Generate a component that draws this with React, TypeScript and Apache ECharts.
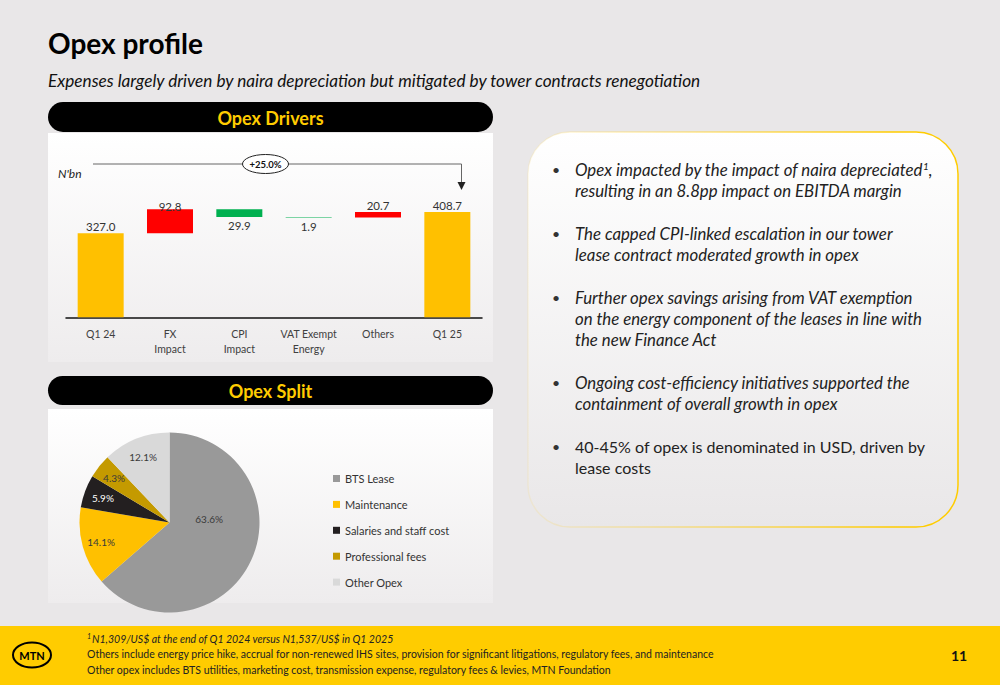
import React, { useEffect, useRef } from 'react';
import * as echarts from 'echarts';

// ---------- Data ----------
const driverCategories = ['Q1 24', 'FX\nImpact', 'CPI\nImpact', 'VAT Exempt\nEnergy', 'Others', 'Q1 25'];
const driverKinds = ['total', 'increase', 'decrease', 'decrease', 'increase', 'total'];
const driverValues = [327.0, 92.8, 29.9, 1.9, 20.7, 408.7];
const growthLabel = '+25.0%';
const driverAxisMax = 650;

const splitNames = ['BTS Lease', 'Maintenance', 'Salaries and staff cost', 'Professional fees', 'Other Opex'];
const splitValues = [63.6, 14.1, 5.9, 4.3, 12.1];
const splitColors = ['#999999', '#FFC000', '#231F20', '#C49A00', '#D9D9D9'];
const splitLabelColors = ['#3a3a3a', '#3a3a3a', '#ffffff', '#3a3a3a', '#3a3a3a'];

const titleText = 'Opex profile';
const subtitleText = 'Expenses largely driven by naira depreciation but mitigated by tower contracts renegotiation';

// Each bullet: italic flag + lines ({s|1} = superscript)
const bullets = [
  { italic: true, lines: ['Opex impacted by the impact of naira depreciated{s|1},', 'resulting in an 8.8pp impact on EBITDA margin'] },
  { italic: true, lines: ['The capped CPI-linked escalation in our tower', 'lease contract moderated growth in opex'] },
  { italic: true, lines: ['Further opex savings arising from VAT exemption', 'on the energy component of the leases in line with', 'the new Finance Act'] },
  { italic: true, lines: ['Ongoing cost-efficiency initiatives supported the', 'containment of overall growth in opex'] },
  { italic: false, lines: ['40-45% of opex is denominated in USD, driven by', 'lease costs'] },
];

const footnotes = [
  { text: '{s|1}{i|N1,309/US$ at the end of Q1 2024 versus N1,537/US$ in Q1 2025}' },
  { text: '{n|Others include energy price hike, accrual for non-renewed IHS sites, provision for significant litigations, regulatory fees, and maintenance}' },
  { text: '{n|Other opex includes BTS utilities, marketing cost, transmission expense, regulatory fees & levies, MTN Foundation}' },
];
const pageNumber = '11';

const FONT = 'Lato, "Noto Sans", sans-serif';
const COLORS = { total: '#FFC000', increase: '#FF0000', decrease: '#00B050' } as Record<string, string>;

export default function App() {
  const ref = useRef<HTMLDivElement>(null);

  useEffect(() => {
    if (!ref.current) return;
    const chart = echarts.init(ref.current, undefined, { renderer: 'svg' });

    // waterfall bases
    let running = 0;
    const bases: number[] = [];
    driverValues.forEach((v, i) => {
      const k = driverKinds[i];
      if (k === 'total') { bases.push(0); running = v; }
      else if (k === 'increase') { bases.push(running); running += v; }
      else { running -= v; bases.push(running); }
    });

    const graphics: any[] = [];
    // title
    graphics.push({ type: 'text', x: 48, y: 43, style: { text: titleText, font: `bold 28px ${FONT}`, fill: '#000', align: 'left', verticalAlign: 'middle' } });
    graphics.push({ type: 'text', x: 48, y: 80, style: { text: subtitleText, font: `italic 17.2px ${FONT}`, fill: '#111', align: 'left', verticalAlign: 'middle' } });

    const panelFill = new echarts.graphic.LinearGradient(0, 0, 0, 1, [
      { offset: 0, color: '#ffffff' }, { offset: 1, color: '#EEECED' },
    ]);
    // panels
    graphics.push({ type: 'rect', shape: { x: 48, y: 133, width: 445, height: 229 }, style: { fill: panelFill } });
    graphics.push({ type: 'rect', shape: { x: 48, y: 409, width: 445, height: 194 }, style: { fill: panelFill } });
    // headers
    graphics.push({ type: 'rect', shape: { x: 48, y: 102, width: 445, height: 30, r: 15 }, style: { fill: '#000' } });
    graphics.push({ type: 'text', x: 270.5, y: 117.5, style: { text: 'Opex Drivers', font: `bold 18px ${FONT}`, fill: '#FFCC00', align: 'center', verticalAlign: 'middle' } });
    graphics.push({ type: 'rect', shape: { x: 48, y: 376, width: 445, height: 29, r: 14.5 }, style: { fill: '#000' } });
    graphics.push({ type: 'text', x: 270.5, y: 391, style: { text: 'Opex Split', font: `bold 18px ${FONT}`, fill: '#FFCC00', align: 'center', verticalAlign: 'middle' } });

    // growth annotation
    graphics.push({ type: 'text', x: 58, y: 173, style: { text: "N'bn", font: `italic 12px ${FONT}`, fill: '#222', align: 'left', verticalAlign: 'middle' } });
    graphics.push({ type: 'polyline', shape: { points: [[93, 164], [461.5, 164], [461.5, 183]] }, style: { stroke: '#666', lineWidth: 1, fill: 'none' } });
    graphics.push({ type: 'polygon', shape: { points: [[457.5, 182], [465.5, 182], [461.5, 190]] }, style: { fill: '#222' } });
    graphics.push({ type: 'ellipse', shape: { cx: 265.5, cy: 164, rx: 23, ry: 9.5 }, style: { fill: '#fff', stroke: '#222', lineWidth: 1 } });
    graphics.push({ type: 'text', x: 265.5, y: 164, style: { text: growthLabel, font: `bold 9.5px ${FONT}`, fill: '#111', align: 'center', verticalAlign: 'middle' } });

    // right box
    graphics.push({
      type: 'rect', shape: { x: 528, y: 132, width: 430, height: 395, r: 42 },
      style: {
        fill: new echarts.graphic.LinearGradient(0, 0, 0, 1, [{ offset: 0, color: '#ffffff' }, { offset: 1, color: '#E9E7E8' }]),
        stroke: new echarts.graphic.LinearGradient(0, 0, 1, 0, [{ offset: 0, color: 'rgba(255,210,60,0.12)' }, { offset: 0.85, color: '#FFCC00' }, { offset: 1, color: '#FFCC00' }]),
        lineWidth: 1.5,
      },
    });
    let k = 0;
    const lineH = 21.3;
    bullets.forEach((b) => {
      graphics.push({ type: 'text', x: 552, y: 169.5 + lineH * k, style: { text: '•', font: `14px ${FONT}`, fill: '#333', align: 'left', verticalAlign: 'middle' } });
      b.lines.forEach((ln) => {
        const rich = ln.replace(/^([^{]*)\{s\|1\}(.*)$/, '{t|$1}{s|1}{t|$2}');
        const txt = rich.indexOf('{t|') === 0 ? rich : `{t|${ln}}`;
        graphics.push({
          type: 'text', x: 575, y: 169.5 + lineH * k,
          style: {
            text: txt, align: 'left', verticalAlign: 'middle',
            rich: {
              t: { font: `${b.italic ? 'italic 16.8px' : '16px'} ${FONT}`, fill: '#222' },
              s: { font: `${b.italic ? 'italic ' : ''}10px ${FONT}`, fill: '#222', verticalAlign: 'top', padding: [0, 0, 8, 0] },
            },
          },
        });
        k += 1;
      });
      k += 1;
    });

    // footer
    graphics.push({ type: 'rect', shape: { x: 0, y: 626, width: 1000, height: 59 }, style: { fill: '#FFCC00' } });
    graphics.push({ type: 'ellipse', shape: { cx: 32, cy: 655, rx: 19, ry: 12.5 }, style: { fill: 'none', stroke: '#000', lineWidth: 2 } });
    graphics.push({ type: 'text', x: 32, y: 655.5, style: { text: 'MTN', font: `bold 11px ${FONT}`, fill: '#000', align: 'center', verticalAlign: 'middle' } });
    footnotes.forEach((f, i) => {
      graphics.push({
        type: 'text', x: 87, y: 638.5 + i * 15.5,
        style: {
          text: f.text, align: 'left', verticalAlign: 'middle',
          rich: {
            s: { font: `italic 7px ${FONT}`, fill: '#222', padding: [0, 1, 5, 0] },
            i: { font: `italic 10.5px ${FONT}`, fill: '#222' },
            n: { font: `10.5px ${FONT}`, fill: '#222' },
          },
        },
      });
    });
    graphics.push({ type: 'text', x: 959, y: 655.5, style: { text: pageNumber, font: `bold 14px ${FONT}`, fill: '#111', align: 'center', verticalAlign: 'middle' } });

    const option: any = {
      animation: false,
      backgroundColor: '#E9E7E8',
      textStyle: { fontFamily: FONT },
      graphic: { elements: graphics },
      grid: { left: 66, right: 518, top: 150, bottom: 367.7, containLabel: false },
      xAxis: {
        type: 'category', data: driverCategories,
        axisLine: { lineStyle: { color: '#111', width: 1.5 } },
        axisTick: { show: false },
        axisLabel: { interval: 0, color: '#404040', fontSize: 10.5, lineHeight: 15, margin: 9, fontFamily: FONT },
      },
      yAxis: { type: 'value', min: 0, max: driverAxisMax, show: false, splitLine: { show: false } },
      legend: {
        orient: 'vertical', left: 328, top: 468, icon: 'rect', itemWidth: 7, itemHeight: 7, itemGap: 14.9,
        data: splitNames, textStyle: { fontSize: 11, color: '#333', fontFamily: FONT },
      },
      series: [
        {
          type: 'bar', stack: 'w', data: bases, barWidth: 46, silent: true,
          itemStyle: { color: 'transparent' }, label: { show: false },
        },
        {
          type: 'bar', stack: 'w', barWidth: 46,
          data: driverValues.map((v, i) => ({
            value: v,
            itemStyle: { color: COLORS[driverKinds[i]] },
            label: {
              position: driverKinds[i] === 'decrease' ? 'bottom' : 'top',
              distance: driverKinds[i] === 'decrease' ? 3 : 1,
              offset: i === 1 ? [0, 4] : [0, 0],
            },
          })),
          label: { show: true, fontSize: 11.5, color: '#333', fontFamily: FONT, formatter: (p: any) => driverValues[p.dataIndex].toFixed(1) },
        },
        {
          type: 'pie', name: 'Opex Split', center: [169.5, 522.5], radius: 90, startAngle: 90, clockwise: true,
          emphasis: { disabled: true },
          data: splitValues.map((v, i) => ({
            name: splitNames[i], value: v,
            itemStyle: { color: splitColors[i] },
            label: { show: i === 0, color: splitLabelColors[i], offset: [-4, -23] },
          })),
          label: { position: 'inside', fontSize: 10, fontFamily: FONT, formatter: (p: any) => `${splitValues[p.dataIndex].toFixed(1)}%` },
          labelLine: { show: false },
        },
        {
          type: 'pie', name: 'labels', center: [169.5, 522.5], radius: 136, startAngle: 90, clockwise: true,
          silent: true, emphasis: { disabled: true }, legendHoverLink: false,
          data: splitValues.map((v, i) => ({
            name: splitNames[i], value: v,
            itemStyle: { color: 'rgba(0,0,0,0)' },
            label: { show: i !== 0, color: splitLabelColors[i] },
          })),
          label: { position: 'inside', fontSize: 10, fontFamily: FONT, formatter: (p: any) => `${splitValues[p.dataIndex].toFixed(1)}%` },
          labelLine: { show: false },
        },
      ],
    };
    chart.setOption(option);
    return () => chart.dispose();
  }, []);

  return <div ref={ref} style={{ position: 'fixed', left: 0, top: 0, width: 1000, height: 685 }} />;
}
